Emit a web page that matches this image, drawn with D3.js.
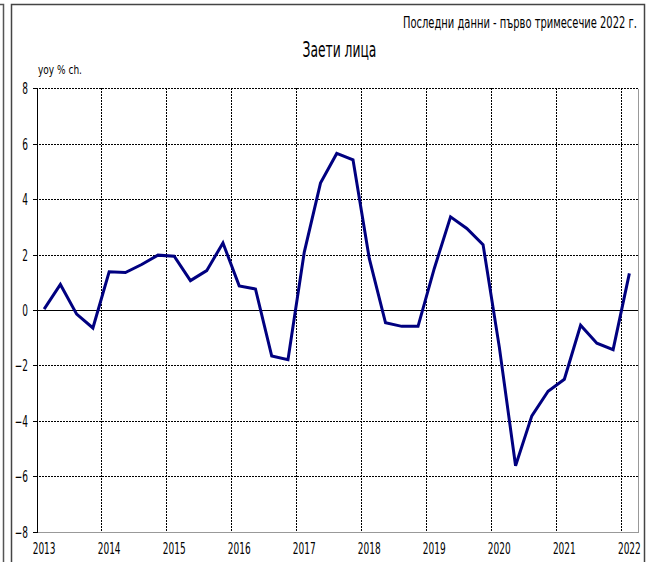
<!DOCTYPE html>
<html>
<head>
<meta charset="utf-8">
<script src="https://cdn.jsdelivr.net/npm/d3@7"></script>
<style>
  html, body { margin: 0; padding: 0; background: #fff; }
  svg { display: block; }
  text { font-family: "DejaVu Sans", Tahoma, sans-serif; fill: #000; }
</style>
</head>
<body>
<svg id="chart" width="652" height="562"></svg>
<script>
const years = ["2013","2014","2015","2016","2017","2018","2019","2020","2021","2022"];
const quarters = ["Q1","Q2","Q3","Q4"];
const categories = [];
years.forEach(y => quarters.forEach(q => { if (categories.length < 37) categories.push(y + q); }));
const values = [0.03, 0.92, -0.15, -0.65, 1.38, 1.35, 1.64, 1.98, 1.94, 1.06, 1.42, 2.42,
  0.87, 0.76, -1.66, -1.79, 2.08, 4.58, 5.65, 5.42, 1.86, -0.46, -0.59, -0.59,
  1.50, 3.36, 2.94, 2.36, -1.34, -5.62, -3.82, -2.93, -2.50, -0.55, -1.20, -1.43, 1.32];
const yTicks = [-8, -6, -4, -2, 0, 2, 4, 6, 8];
const title = "Заети лица";
const note = "Последни данни - първо тримесечие 2022 г.";
const unitLabel = "yoy % ch.";

const svg = d3.select("#chart");
const L = 36, R = 637.5, T = 88.3, B = 531.7;
const x = d3.scaleBand().domain(categories).range([L, R]).padding(0);
const y = d3.scaleLinear().domain([-8, 8]).range([B, T]);
const SX = 0.6;
const crisp = v => Math.round(v) + 0.5;

// horizontally squeezed text helper: fit to a target width
function squeezed(txt, xPos, yPos, size, width, anchor) {
  const t = svg.append("text").attr("font-size", size).attr("y", yPos).text(txt);
  const w = t.node().getComputedTextLength();
  const s = width / w;
  const x0 = anchor === "end" ? xPos - width : anchor === "middle" ? xPos - width / 2 : xPos;
  t.attr("x", x0 / s).attr("transform", `scale(${s},1)`);
  return t;
}

// outer frames
svg.append("path").attr("d", "M0,4.5H3.5V562").attr("fill", "none").attr("stroke", "#555").attr("stroke-width", 1.5);
svg.append("rect").attr("x", 11.5).attr("y", 4.5).attr("width", 633).attr("height", 600)
  .attr("fill", "#fff").attr("stroke", "#444").attr("stroke-width", 1.5);

// texts
squeezed(note, 637, 28, 15, 234, "end");
squeezed(title, 339.5, 57, 21, 74, "middle");
squeezed(unitLabel, 38, 74, 12, 44, "start");

// plot area border (right, bottom)
svg.append("path").attr("d", `M${L},${crisp(B)}H${crisp(R)}V${crisp(T)}`).attr("fill", "none")
  .attr("stroke", "#999").attr("stroke-width", 1).attr("shape-rendering", "crispEdges");

// horizontal gridlines
svg.append("g").selectAll("line").data(yTicks.filter(v => v !== 0 && v !== -8)).join("line")
  .attr("x1", L).attr("x2", R).attr("y1", d => crisp(y(d))).attr("y2", d => crisp(y(d)))
  .attr("stroke", "#000").attr("stroke-width", 1).attr("stroke-dasharray", "2,1")
  .attr("shape-rendering", "crispEdges");

// vertical gridlines at year boundaries
const boundaries = categories.filter((c, i) => i > 0 && c.endsWith("Q1"));
svg.append("g").selectAll("line").data(boundaries).join("line")
  .attr("x1", d => crisp(x(d))).attr("x2", d => crisp(x(d))).attr("y1", T).attr("y2", B)
  .attr("stroke", "#000").attr("stroke-width", 1).attr("stroke-dasharray", "2,1")
  .attr("shape-rendering", "crispEdges");

// zero line
svg.append("line").attr("x1", L).attr("x2", R).attr("y1", crisp(y(0))).attr("y2", crisp(y(0)))
  .attr("stroke", "#000").attr("stroke-width", 1).attr("shape-rendering", "crispEdges");

// y axis
const yAxis = svg.append("g").attr("transform", `translate(${L + 0.5},0)`)
  .call(d3.axisLeft(y).tickValues(yTicks).tickSize(4).tickPadding(8).tickFormat(d3.format("d")));
yAxis.select(".domain").attr("stroke", "#000").attr("stroke-width", 1).attr("shape-rendering", "crispEdges");
yAxis.selectAll(".tick").attr("transform", d => `translate(0,${crisp(y(d))})`);
yAxis.selectAll(".tick line").attr("stroke", "#000").attr("shape-rendering", "crispEdges");
yAxis.selectAll(".tick text").attr("font-size", 15).attr("font-family", "DejaVu Sans, sans-serif")
  .attr("x", -8.5 / SX).attr("transform", `scale(${SX},1)`).attr("dy", "0.36em");

// x axis labels
const yearCats = categories.filter(c => c.endsWith("Q1"));
const xAxis = svg.append("g").attr("transform", `translate(0,${B})`)
  .call(d3.axisBottom(x).tickValues(yearCats).tickSize(0).tickPadding(0).tickFormat(c => c.slice(0, 4)));
xAxis.select(".domain").remove();
xAxis.selectAll(".tick").attr("transform", d => `translate(${(x(d) + x.bandwidth() / 2) / SX},0)`);
xAxis.selectAll(".tick text").attr("font-size", 15).attr("font-family", "DejaVu Sans, sans-serif")
  .attr("y", 22.5).attr("dy", 0);
xAxis.attr("transform", `translate(0,${B}) scale(${SX},1)`);

// data line
const line = d3.line().x((d, i) => x(categories[i]) + x.bandwidth() / 2).y(d => y(d));
svg.append("path").datum(values).attr("d", line).attr("fill", "none")
  .attr("stroke", "#000080").attr("stroke-width", 3).attr("stroke-linejoin", "miter");
</script>
</body>
</html>
